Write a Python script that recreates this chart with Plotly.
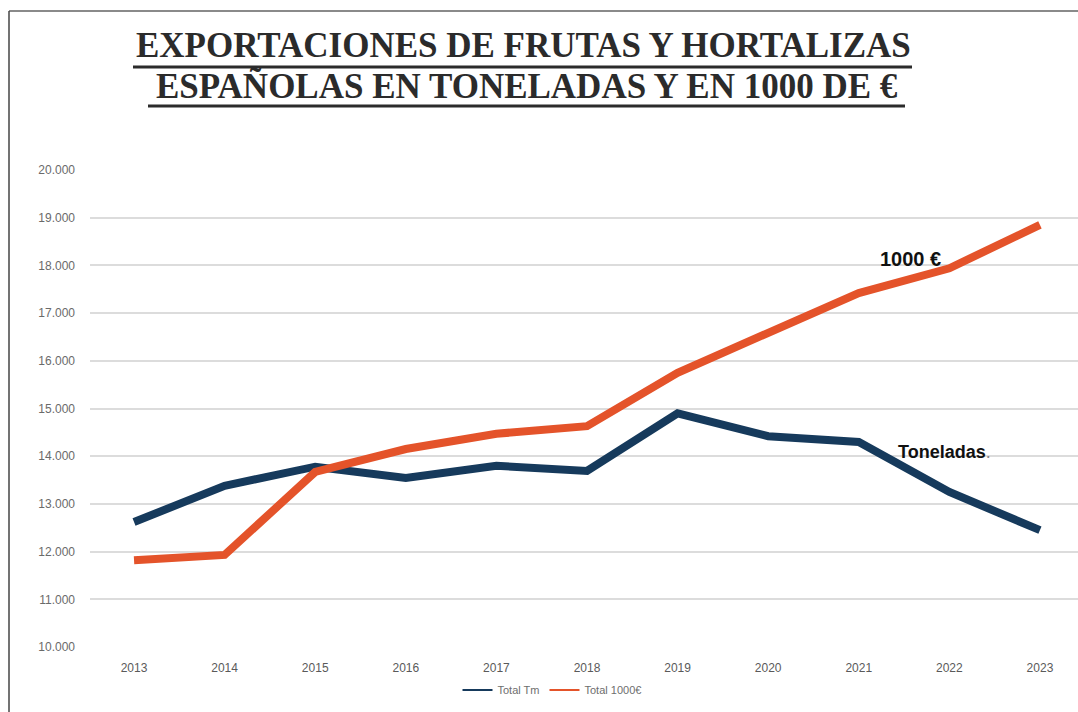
import plotly.graph_objects as go

years = [2013, 2014, 2015, 2016, 2017, 2018, 2019, 2020, 2021, 2022, 2023]
total_tm = [12620, 13380, 13780, 13545, 13800, 13690, 14900, 14420, 14300, 13250, 12450]
total_eur = [11820, 11930, 13670, 14150, 14470, 14630, 15750, 16600, 17420, 17940, 18850]
y_ticks = [10000, 11000, 12000, 13000, 14000, 15000, 16000, 17000, 18000, 19000, 20000]

title_lines = ["EXPORTACIONES DE FRUTAS Y HORTALIZAS", "ESPAÑOLAS EN TONELADAS Y EN 1000 DE €"]
series_names = ["Total Tm", "Total 1000€"]
colors = ["#163a5c", "#e4532a"]

W, H = 1078, 712
L, R, T, B = 90, 0, 170, 65
pw, ph = W - L - R, H - T - B

def px(x):
    return (x - L) / pw

def py(y):
    return (H - B - y) / ph

fig = go.Figure()
for vals, name, col in zip([total_tm, total_eur], series_names, colors):
    fig.add_trace(go.Scatter(x=years, y=vals, mode="lines", name=name, showlegend=False,
                             line=dict(color=col, width=8)))
# thin legend entries (as in the reference)
for name, col in zip(series_names, colors):
    fig.add_trace(go.Scatter(x=[None], y=[None], mode="lines", name=name,
                             line=dict(color=col, width=2)))

annotations = [
    dict(text="<b>" + title_lines[0] + "</b>", x=px(523), y=py(46), xref="paper", yref="paper",
         showarrow=False, font=dict(family="Liberation Serif", size=35, color="#2b2b2b"),
         xanchor="center", yanchor="middle"),
    dict(text="<b>" + title_lines[1] + "</b>", x=px(527), y=py(86), xref="paper", yref="paper",
         showarrow=False, font=dict(family="Liberation Serif", size=35, color="#2b2b2b"),
         xanchor="center", yanchor="middle"),
    dict(text="<b>1000 €</b>", x=2021.57, y=18130, xref="x", yref="y", showarrow=False,
         font=dict(family="Liberation Sans", size=20, color="#111111")),
    dict(text="<b>Toneladas</b><span style='color:#888'>.</span>", x=2021.95, y=14080,
         xref="x", yref="y", showarrow=False,
         font=dict(family="Liberation Sans", size=18, color="#111111")),
]

shapes = [
    # frame
    dict(type="line", xref="paper", yref="paper", x0=px(9), x1=px(1078), y0=py(11), y1=py(11),
         line=dict(color="#8a8a8a", width=2)),
    dict(type="line", xref="paper", yref="paper", x0=px(9), x1=px(9), y0=py(11), y1=py(712),
         line=dict(color="#444444", width=1.5)),
    # title underlines
    dict(type="line", xref="paper", yref="paper", x0=px(133), x1=px(912), y0=py(67), y1=py(67),
         line=dict(color="#2b2b2b", width=3)),
    dict(type="line", xref="paper", yref="paper", x0=px(148), x1=px(905), y0=py(106), y1=py(106),
         line=dict(color="#2b2b2b", width=3)),
]

fig.update_layout(
    width=W, height=H,
    margin=dict(l=L, r=R, t=T, b=B),
    paper_bgcolor="white", plot_bgcolor="white",
    separators=",.",
    showlegend=True,
    legend=dict(orientation="h", x=px(552), y=py(690), xanchor="center", yanchor="middle",
                font=dict(family="Liberation Sans", size=11, color="#6e6e6e"),
                itemwidth=30, tracegroupgap=0),
    annotations=annotations,
    shapes=shapes,
    font=dict(family="Liberation Sans"),
)
fig.update_xaxes(range=[2012.514, 2023.42], tickvals=years, showgrid=False, zeroline=False,
                 showline=False, ticks="", ticklabelstandoff=12,
                 tickfont=dict(family="Liberation Sans Narrow, Liberation Sans", size=12, color="#5a5a5a"))
fig.update_yaxes(range=[10000, 20000], tickvals=y_ticks, tickformat=",d", showgrid=True,
                 gridcolor="#dcdcdc", gridwidth=1.5, zeroline=False, showline=False, ticks="",
                 ticklabelstandoff=14,
                 tickfont=dict(family="Liberation Sans", size=12, color="#6a6a6a"))

fig.write_html("out.html", config={"displayModeBar": False},
               post_script="document.body.style.margin='0';")
